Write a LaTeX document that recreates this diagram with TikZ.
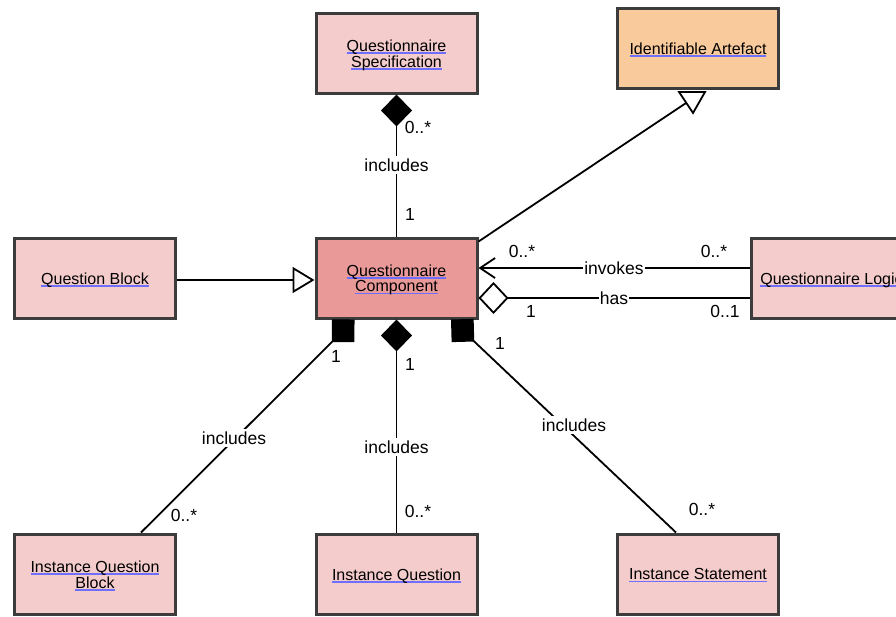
\documentclass[tikz,border=0pt]{standalone}
\usepackage{fontspec}
\setmainfont{Liberation Sans}
\usetikzlibrary{arrows.meta}
\definecolor{pinkf}{HTML}{F4CCCC}
\definecolor{compf}{HTML}{EA9999}
\definecolor{orangef}{HTML}{F9CB9C}
\definecolor{bord}{HTML}{3C3C3C}
\definecolor{ulblue}{HTML}{6E6EFF}
\newcommand\ulx[1]{\setbox0\hbox{#1}\rlap{\color{ulblue}\rule[-2.5pt]{\wd0}{1.4pt}}\box0}
\newcommand\boxtext[1]{\raisebox{-2.5pt}[\height][\depth]{\begin{tabular}{@{}c@{}}#1\end{tabular}}}
\begin{document}
\begin{tikzpicture}[x=1pt,y=-1pt,
  cls/.style={draw=bord, line width=3pt, minimum width=161pt, minimum height=80pt, inner sep=0pt, align=center, font=\fontsize{16}{15}\selectfont, fill=pinkf},
  conn/.style={line width=1.8pt, draw=black},
  lbl/.style={font=\fontsize{17.5}{18}\selectfont, inner sep=1pt},
  lblw/.style={lbl, fill=white, inner ysep=3pt}]
\useasboundingbox (0,0) rectangle (896,616);
\clip (0,0) rectangle (896,616);
\fill[white] (0,0) rectangle (896,616);
% classes
\node[cls] (spec) at (396.5,53) {\boxtext{\ulx{Questionnaire}\\\ulx{Specification}}};
\node[cls, fill=orangef] (ia) at (698,48) {\boxtext{\ulx{Identifiable Artefact}}};
\node[cls] (qb) at (95,278) {\boxtext{\ulx{Question Block}}};
\node[cls, fill=compf] (comp) at (396.5,278) {\boxtext{\ulx{Questionnaire}\\\ulx{Component}}};
\node[cls] (logic) at (831.5,278) {\boxtext{\ulx{Questionnaire Logic}}};
\node[cls] (iqb) at (95,574) {\boxtext{\ulx{Instance Question}\\\ulx{Block}}};
\node[cls] (iq) at (396.5,574) {\boxtext{\ulx{Instance Question}}};
\node[cls] (is) at (698,574) {\boxtext{\ulx{Instance Statement}}};
% spec - comp
\draw[conn, {Diamond[length=32pt,width=31pt]}-] (spec.south) -- (comp.north);
\node[lbl] (l1a) at (418,127) {0..*};
\node[lblw] (l1b) at (396.5,165) {includes};
\node[lbl] (l1c) at (410,214) {1};
% generalization to IA
\coordinate (iatip) at (686,103);
\draw[conn] ([yshift=-5pt]comp.north east) -- (iatip);
\draw[line width=1.8pt, fill=white, line join=miter] (679,92) -- (705,92) -- (693,113) -- cycle;
% question block -> comp
\draw[conn, -{Triangle[open,length=22pt,width=26pt,fill=white]}] ([yshift=-2pt]qb.east) -- ([yshift=-2pt]comp.west);
% invokes
\draw[conn, -{Straight Barb[length=15pt,width=20pt]}] ([yshift=10pt]logic.west) -- ([yshift=10pt]comp.east);
\node[lbl] (l2a) at (522,251) {0..*};
\node[lblw, inner ysep=0pt, inner xsep=1pt] (l2b) at (614,268) {invokes};
\node[lbl] (l2c) at (714,251) {0..*};
% has
\draw[conn, {Diamond[open,length=30pt,width=32pt,fill=white]}-] ([yshift=-20pt]comp.east) -- ([yshift=-20pt]logic.west);
\node[lbl] (l3a) at (531,311) {1};
\node[lblw, inner ysep=0pt, inner xsep=1pt] (l3b) at (614,298) {has};
\node[lbl] (l3c) at (725,311) {0..1};
% comp -> instance question block
\draw[conn, {Diamond[length=32pt,width=32pt]}-] ([xshift=-42pt]comp.south) -- ([xshift=46pt]iqb.north);
\node[lbl] (l4a) at (336,356) {1};
\node[lblw] (l4b) at (234,438) {includes};
\node[lbl] (l4c) at (184,515) {0..*};
% comp -> instance question
\draw[conn, {Diamond[length=32pt,width=31pt]}-] (comp.south) -- (iq.north);
\node[lbl] (l5a) at (410,364) {1};
\node[lblw] (l5b) at (396.5,447) {includes};
\node[lbl] (l5c) at (418,511) {0..*};
% comp -> instance statement
\draw[conn, {Diamond[length=32pt,width=32pt]}-] ([xshift=54.5pt]comp.south) -- ([xshift=-22pt]is.north);
\node[lbl] (l6a) at (500,343) {1};
\node[lblw] (l6b) at (574,425) {includes};
\node[lbl] (l6c) at (702,509) {0..*};
\end{tikzpicture}
\end{document}
